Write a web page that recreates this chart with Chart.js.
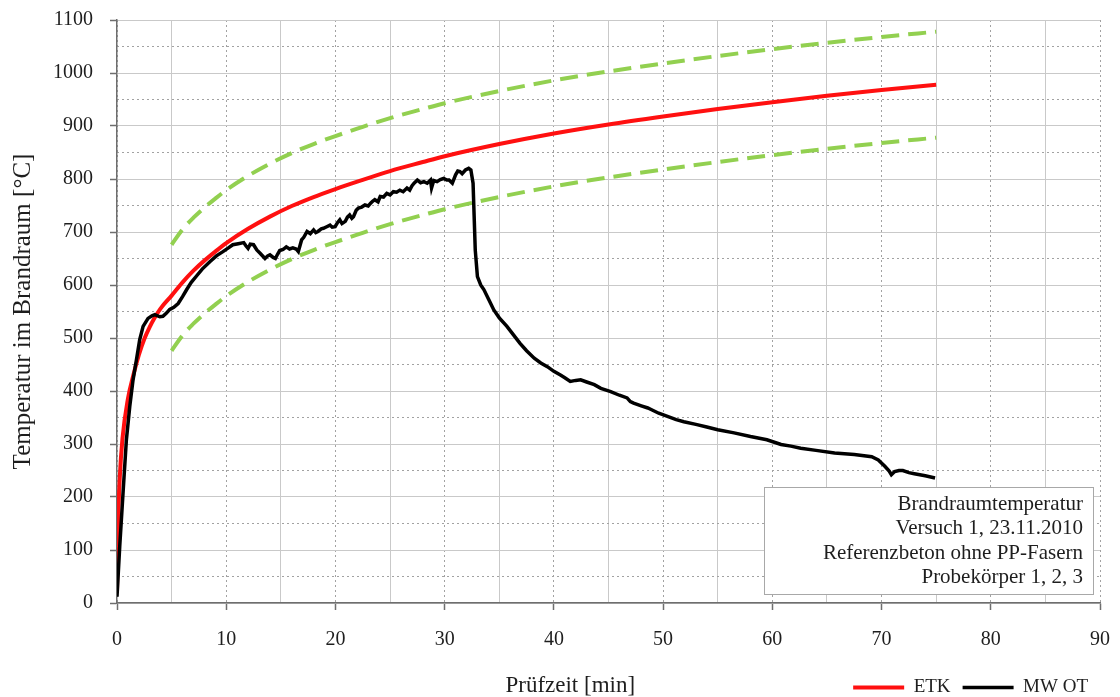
<!DOCTYPE html>
<html><head><meta charset="utf-8">
<script src="https://cdn.jsdelivr.net/npm/chart.js@4.4.1/dist/chart.umd.min.js"></script>
<style>html,body{margin:0;padding:0;background:#fff}#wrap{width:1120px;height:697px;position:relative}</style>
</head><body><div id="wrap"><canvas id="c" width="1120" height="697"></canvas></div>
<script>
// ---- data ----
const etkTime = [0, 0.1, 0.25, 0.5, 1, 1.5, 2, 2.5, 3, 3.5, 4, 5, 6, 7, 8, 9, 10, 12, 14, 16, 18, 20, 22, 25, 28, 30, 35, 40, 45, 50, 55, 60, 65, 70, 75];
const etkTemp = [20, 150, 235, 310, 385, 430, 468, 498, 521, 540, 556, 580, 605, 627, 646, 663, 679, 706, 729, 749, 766, 781, 795, 815, 832, 843, 866, 886, 903, 918, 932, 945, 957, 968, 978];

const tolTime  = [5, 6, 7, 8, 9, 10, 12, 14, 16, 18, 20, 22, 25, 28, 30, 35, 40, 45, 50, 55, 60, 65, 70, 75];
const tolUpper = [676, 705, 727, 746, 763, 779, 806, 829, 849, 866, 881, 895, 915, 932, 943, 966, 986, 1003, 1018, 1032, 1045, 1057, 1068, 1078];
const tolLower = [476, 505, 527, 546, 563, 579, 606, 629, 649, 666, 681, 695, 715, 732, 743, 766, 786, 803, 818, 832, 845, 857, 868, 878];

const mwTime = [0, 0.25, 0.55, 0.86, 1.17, 1.47, 1.78, 2.08, 2.39, 2.84, 3.2, 3.46, 3.92, 4.2, 4.53, 4.83, 5.2, 5.6, 6.0, 6.37, 6.8, 7.28, 7.8, 8.5, 9.1, 9.7, 10.2, 10.6, 11.1, 11.6, 11.8, 12.0, 12.2, 12.5, 12.8, 13.1, 13.55, 13.8, 14.0, 14.3, 14.5, 14.7, 14.9, 15.2, 15.5, 15.8, 16.1, 16.4, 16.6, 16.9, 17.1, 17.4, 17.7, 18.0, 18.2, 18.4, 18.7, 18.9, 19.2, 19.5, 19.7, 19.97, 20.2, 20.4, 20.6, 20.9, 21.1, 21.3, 21.5, 21.65, 21.9, 22.1, 22.4, 22.7, 23.0, 23.2, 23.4, 23.6, 23.9, 24.1, 24.4, 24.7, 25.0, 25.3, 25.6, 25.9, 26.2, 26.55, 26.8, 27.0, 27.2, 27.5, 27.8, 28.1, 28.4, 28.7, 28.8, 29.0, 29.3, 29.6, 29.9, 30.2, 30.4, 30.7, 31.0, 31.2, 31.4, 31.6, 31.9, 32.2, 32.4, 32.6, 32.7, 32.8, 33.0, 33.3, 33.6, 34.0, 34.5, 35.0, 35.7, 36.3, 36.9, 37.5, 38.2, 38.8, 39.4, 40.0, 40.6, 41.0, 41.5, 42.0, 42.45, 43.0, 43.7, 44.3, 45.2, 46.0, 46.7, 47.0, 47.3, 48.0, 48.6, 48.9, 49.6, 50.4, 51.2, 51.9, 53.0, 54.0, 55.0, 56.5, 58.0, 59.5, 60.8, 61.7, 62.6, 64.0, 65.7, 67.5, 69.1, 69.7, 70.3, 70.7, 70.9, 71.2, 71.6, 71.95, 72.5, 73.0, 74.0, 74.9];
const mwTemp = [12, 107, 207, 308, 371, 421, 459, 497, 522, 537, 542, 544, 540, 541, 547, 554, 558, 565, 578, 591, 605, 617, 630, 644, 655, 663, 670, 676, 678, 680, 674, 669, 677, 676, 666, 660, 650, 655, 657, 652, 650, 658, 665, 667, 672, 668, 670, 668, 663, 685, 690, 701, 697, 704, 699, 701, 706, 707, 710, 713, 709, 710, 718, 723, 716, 720, 728, 732, 726, 729, 741, 745, 747, 751, 749, 754, 758, 761, 757, 767, 766, 773, 770, 776, 775, 779, 776, 783, 779, 787, 792, 798, 793, 795, 792, 798, 783, 797, 795, 799, 801, 798, 798, 792, 808, 815, 814, 810, 817, 820, 817, 792, 729, 666, 616, 600, 591, 574, 553, 538, 522, 506, 490, 476, 462, 453, 446, 437, 430, 425, 418, 420, 421, 417, 412, 405, 399, 392, 387, 380, 377, 372, 368, 365, 358, 352, 346, 342, 337, 332, 327, 321, 314, 308, 299, 296, 292, 288, 283, 280, 276, 270, 258, 249, 242, 248, 250, 250, 246, 244, 240, 236];

const seriesLabels = ['ETK', 'MW OT', 'Toleranz oben', 'Toleranz unten'];
const xMajorTicks = [0, 10, 20, 30, 40, 50, 60, 70, 80, 90];
const xMinorTicks = [5, 15, 25, 35, 45, 55, 65, 75, 85];
const yMinorTicks = [50, 150, 250, 350, 450, 550, 650, 750, 850, 950, 1050];
const xTitle = 'Prüfzeit [min]';
const yTitle = 'Temperatur im Brandraum [°C]';
const noteLines = ['Brandraumtemperatur', 'Versuch 1, 23.11.2010', 'Referenzbeton ohne PP-Fasern', 'Probekörper 1, 2, 3'];

// ---- build ----
const pts = (xs, ys) => xs.map((x, i) => ({x: x, y: ys[i]}));
const SERIF = "'Liberation Serif', 'Times New Roman', serif";
const TXT = '#1e1e1e';
const AXIS = '#6e6e6e';
const GRID_SOLID = '#c9c9c9';
const GRID_DOT = '#a2a2a2';

const overlay = {
  id: 'overlay',
  afterDatasetsDraw(chart) {
    const ca = chart.chartArea, ctx = chart.ctx;
    const l = ca.right - 336, r = ca.right - 7, t = ca.bottom - 116, b = ca.bottom - 9;
    ctx.save();
    ctx.fillStyle = '#fff';
    ctx.fillRect(l, t, r - l, b - t);
    ctx.strokeStyle = '#a8a8a8';
    ctx.lineWidth = 1;
    ctx.strokeRect(l + 0.5, t + 0.5, r - l, b - t);
    ctx.fillStyle = TXT;
    ctx.font = "21px " + SERIF;
    ctx.textAlign = 'right';
    ctx.textBaseline = 'middle';
    noteLines.forEach((s, i) => ctx.fillText(s, ca.right - 17, t + 17 + i * 24.5));
    ctx.restore();
  },
  afterDraw(chart) {
    const ctx = chart.ctx;
    ctx.save();
    ctx.fillStyle = TXT;
    ctx.font = "23px " + SERIF;
    ctx.textAlign = 'center';
    ctx.textBaseline = 'middle';
    ctx.fillText(xTitle, chart.scales.x.getPixelForValue(41.5), 686);
    ctx.restore();
  }
};

new Chart(document.getElementById('c'), {
  type: 'line',
  data: {
    datasets: [
      {label: seriesLabels[0], data: pts(etkTime, etkTemp), borderColor: '#ff1010', backgroundColor: '#ff1010', borderWidth: 4, pointRadius: 0, cubicInterpolationMode: 'monotone', order: 1},
      {label: seriesLabels[1], data: pts(mwTime, mwTemp), borderColor: '#000', backgroundColor: '#000', borderWidth: 3.5, pointRadius: 0, tension: 0, order: 0},
      {label: seriesLabels[2], data: pts(tolTime, tolUpper), borderColor: '#92d050', borderWidth: 4, borderDash: [18, 9], pointRadius: 0, cubicInterpolationMode: 'monotone', order: 2},
      {label: seriesLabels[3], data: pts(tolTime, tolLower), borderColor: '#92d050', borderWidth: 4, borderDash: [18, 9], pointRadius: 0, cubicInterpolationMode: 'monotone', order: 2}
    ]
  },
  options: {
    responsive: false,
    animation: false,
    devicePixelRatio: 1,
    layout: {padding: {top: 20, right: 20, bottom: -10, left: 0}},
    plugins: {
      tooltip: {enabled: false},
      legend: {
        position: 'bottom', align: 'end',
        labels: {
          usePointStyle: true, pointStyle: 'line', pointStyleWidth: 51,
          padding: 12, color: TXT, font: {family: SERIF, size: 19},
          filter: (item) => item.datasetIndex < 2,
          sort: (a, b) => a.datasetIndex - b.datasetIndex
        }
      }
    },
    scales: {
      x: {
        type: 'linear', position: 'bottom', min: 0, max: 90,
        afterBuildTicks: (a) => { a.ticks = xMajorTicks.map(v => ({value: v})); },
        afterFit: (s) => { s.height = 63; s.paddingLeft = 0; s.paddingRight = 0; },
        ticks: {color: TXT, font: {family: SERIF, size: 20}, padding: 18, maxRotation: 0, callback: (v) => String(v)},
        grid: {drawOnChartArea: false, drawTicks: true, tickLength: 7, tickColor: AXIS, tickWidth: 1.5},
        border: {display: true, color: AXIS, width: 1.5}
      },
      xDot: {
        type: 'linear', position: 'bottom', min: 0, max: 90,
        afterBuildTicks: (a) => { a.ticks = xMajorTicks.map(v => ({value: v})); },
        ticks: {display: false},
        grid: {color: GRID_DOT, lineWidth: 1, drawTicks: false},
        border: {display: false, dash: [2, 3]}
      },
      xSolid: {
        type: 'linear', position: 'bottom', min: 0, max: 90,
        afterBuildTicks: (a) => { a.ticks = xMinorTicks.map(v => ({value: v})); },
        ticks: {display: false},
        grid: {color: GRID_SOLID, lineWidth: 1, drawTicks: false},
        border: {display: false}
      },
      y: {
        type: 'linear', position: 'left', min: 0, max: 1100,
        ticks: {stepSize: 100, color: TXT, font: {family: SERIF, size: 20}, padding: 17, callback: (v) => String(v)},
        afterFit: (s) => { s.width = 117; s.paddingTop = 0; s.paddingBottom = 0; },
        grid: {color: GRID_SOLID, lineWidth: 1, tickLength: 7, tickColor: AXIS, tickWidth: 1.5},
        border: {display: true, color: AXIS, width: 1.5},
        title: {display: true, text: yTitle, color: TXT, font: {family: SERIF, size: 25}, padding: {top: 8, bottom: 0}}
      },
      yDot: {
        type: 'linear', position: 'left', min: 0, max: 1100,
        afterBuildTicks: (a) => { a.ticks = yMinorTicks.map(v => ({value: v})); },
        ticks: {display: false},
        grid: {color: GRID_DOT, lineWidth: 1, drawTicks: false},
        border: {display: false, dash: [2, 3]}
      }
    }
  },
  plugins: [overlay]
});
</script>
</body></html>
